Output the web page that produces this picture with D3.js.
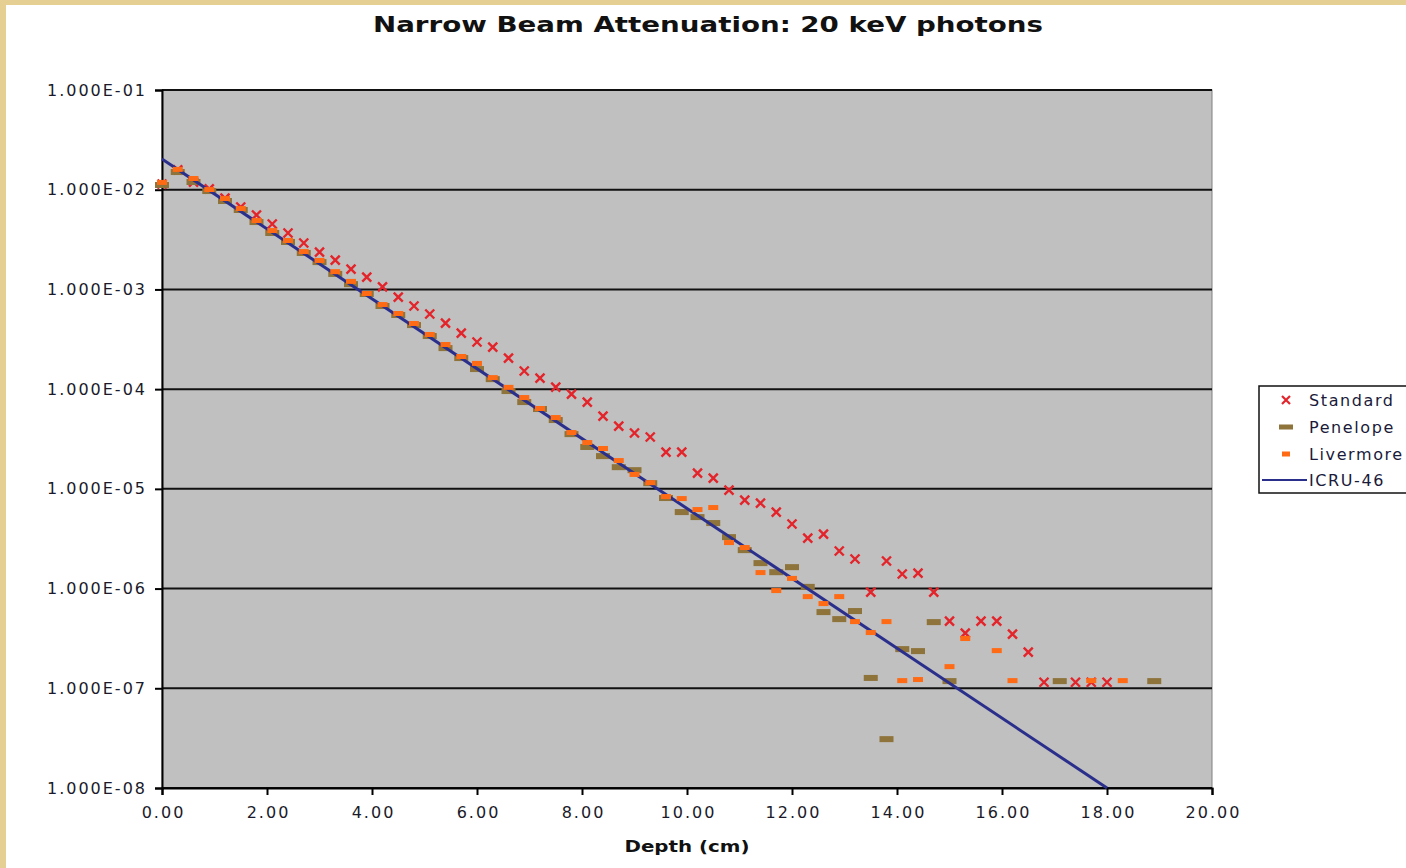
<!DOCTYPE html>
<html>
<head>
<meta charset="utf-8">
<script src="https://cdn.jsdelivr.net/npm/d3@7"></script>
<style>
  html, body { margin: 0; padding: 0; background: #e6cf92; }
  svg { display: block; }
</style>
</head>
<body>
<svg id="chart" width="1406" height="868"></svg>
<script>
// ---- Data ----
const title = "Narrow Beam Attenuation: 20 keV photons";
const xTitle = "Depth (cm)";
const xTicks = [0, 2, 4, 6, 8, 10, 12, 14, 16, 18, 20];
const yTicks = [1e-1, 1e-2, 1e-3, 1e-4, 1e-5, 1e-6, 1e-7, 1e-8];
const seriesNames = ["Standard", "Penelope", "Livermore", "ICRU-46"];

const standardDepth = [0.0,0.3,0.6,0.9,1.2,1.5,1.8,2.1,2.4,2.7,3.0,3.3,3.6,3.9,4.2,4.5,4.8,5.1,5.4,5.7,
  6.0,6.3,6.6,6.9,7.2,7.5,7.8,8.1,8.4,8.7,9.0,9.3,9.6,9.9,10.2,10.5,10.8,11.1,11.4,11.7,
  12.0,12.3,12.6,12.9,13.2,13.5,13.8,14.1,14.4,14.7,15.0,15.3,15.6,15.9,16.2,16.5,16.8,17.4,17.7,18.0];
const standardValue = [1.14e-2,1.58e-2,1.19e-2,1.02e-2,8.25e-3,6.71e-3,5.58e-3,4.53e-3,3.68e-3,2.92e-3,
  2.37e-3,1.97e-3,1.60e-3,1.33e-3,1.06e-3,8.39e-4,6.82e-4,5.67e-4,4.60e-4,3.65e-4,
  2.97e-4,2.64e-4,2.05e-4,1.52e-4,1.29e-4,1.05e-4,8.93e-5,7.42e-5,5.37e-5,4.26e-5,
  3.63e-5,3.31e-5,2.34e-5,2.34e-5,1.44e-5,1.28e-5,9.72e-6,7.72e-6,7.20e-6,5.85e-6,
  4.44e-6,3.21e-6,3.52e-6,2.38e-6,1.98e-6,9.22e-7,1.89e-6,1.40e-6,1.43e-6,9.22e-7,
  4.72e-7,3.58e-7,4.72e-7,4.72e-7,3.50e-7,2.31e-7,1.15e-7,1.15e-7,1.15e-7,1.15e-7];

const penelopeDepth = [0.0,0.3,0.6,0.9,1.2,1.5,1.8,2.1,2.4,2.7,3.0,3.3,3.6,3.9,4.2,4.5,4.8,5.1,5.4,5.7,
  6.0,6.3,6.6,6.9,7.2,7.5,7.8,8.1,8.4,8.7,9.0,9.3,9.6,9.9,10.2,10.5,10.8,11.1,11.4,11.7,
  12.0,12.3,12.6,12.9,13.2,13.5,13.8,14.1,14.4,14.7,15.0,17.1,18.9];
const penelopeValue = [1.115e-2,1.505e-2,1.195e-2,9.70e-3,7.70e-3,6.26e-3,4.74e-3,3.68e-3,2.99e-3,2.32e-3,
  1.88e-3,1.43e-3,1.13e-3,9.00e-4,6.82e-4,5.54e-4,4.39e-4,3.41e-4,2.58e-4,2.05e-4,
  1.59e-4,1.26e-4,9.57e-5,7.42e-5,6.32e-5,4.90e-5,3.54e-5,2.63e-5,2.13e-5,1.65e-5,
  1.54e-5,1.14e-5,8.09e-6,5.85e-6,5.21e-6,4.54e-6,3.28e-6,2.43e-6,1.80e-6,1.46e-6,
  1.64e-6,1.04e-6,5.81e-7,4.94e-7,5.95e-7,1.27e-7,3.09e-8,2.47e-7,2.36e-7,4.61e-7,
  1.18e-7,1.18e-7,1.18e-7];

const livermoreDepth = [0.0,0.3,0.6,0.9,1.2,1.5,1.8,2.1,2.4,2.7,3.0,3.3,3.6,3.9,4.2,4.5,4.8,5.1,5.4,5.7,
  6.0,6.3,6.6,6.9,7.2,7.5,7.8,8.1,8.4,8.7,9.0,9.3,9.6,9.9,10.2,10.5,10.8,11.1,11.4,11.7,
  12.0,12.3,12.6,12.9,13.2,13.5,13.8,14.1,14.4,15.0,15.3,15.9,16.2,17.7,18.3];
const livermoreValue = [1.17e-2,1.58e-2,1.28e-2,9.93e-3,8.06e-3,6.40e-3,4.85e-3,3.85e-3,3.06e-3,2.37e-3,
  1.93e-3,1.49e-3,1.19e-3,9.00e-4,6.97e-4,5.67e-4,4.50e-4,3.49e-4,2.77e-4,2.10e-4,
  1.79e-4,1.29e-4,1.03e-4,8.14e-5,6.32e-5,5.13e-5,3.63e-5,2.88e-5,2.51e-5,1.90e-5,
  1.38e-5,1.14e-5,8.28e-6,7.90e-6,6.13e-6,6.42e-6,2.86e-6,2.55e-6,1.43e-6,9.44e-7,
  1.25e-6,8.21e-7,6.99e-7,8.21e-7,4.61e-7,3.58e-7,4.61e-7,1.18e-7,1.21e-7,1.63e-7,
  3.12e-7,2.36e-7,1.18e-7,1.18e-7,1.18e-7];

const icruDepth = [0.0, 18.0];
const icruValue = [2.03e-2, 1.0e-8];

// ---- Colours ----
const cStandard = "#e3242b", cPenelope = "#8e733a", cLivermore = "#ff6a14", cIcru = "#2b2f8c";

// ---- Layout ----
const svg = d3.select("#chart");
const W = 1406, H = 868;
const plot = { left: 162, right: 1212, top: 90, bottom: 788 };
const FONT = "'DejaVu Sans', Verdana, sans-serif";

svg.append("rect").attr("x", 6).attr("y", 5).attr("width", W - 6).attr("height", H - 5).attr("fill", "#ffffff");

const x = d3.scaleLinear().domain([0, 20]).range([plot.left, plot.right]);
const y = d3.scaleLog().domain([1e-8, 1e-1]).range([plot.bottom, plot.top]);

// plot background
svg.append("rect")
  .attr("x", plot.left).attr("y", plot.top)
  .attr("width", plot.right - plot.left).attr("height", plot.bottom - plot.top)
  .attr("fill", "#c0c0c0").attr("stroke", "#808080").attr("stroke-width", 1);

// gridlines
svg.append("g").selectAll("line").data(yTicks).join("line")
  .attr("x1", plot.left).attr("x2", plot.right)
  .attr("y1", d => y(d)).attr("y2", d => y(d))
  .attr("stroke", "#111").attr("stroke-width", 2);

// Y axis
const yAxis = d3.axisLeft(y).tickValues(yTicks).tickSize(7).tickPadding(10)
  .tickFormat(d => "1.000E-0" + Math.round(-Math.log10(d)));
const gy = svg.append("g").attr("transform", `translate(${plot.left},0)`).call(yAxis);
gy.select(".domain").attr("stroke", "#000").attr("stroke-width", 2);
gy.selectAll(".tick line").attr("stroke", "#000").attr("stroke-width", 2);
gy.selectAll(".tick text").attr("font-family", FONT).attr("font-size", 16)
  .attr("letter-spacing", "2px").attr("fill", "#1a1a2a").attr("dx", "2");

// X axis
const xAxis = d3.axisBottom(x).tickValues(xTicks).tickSize(7).tickPadding(12)
  .tickFormat(d3.format(".2f"));
const gx = svg.append("g").attr("transform", `translate(0,${plot.bottom})`).call(xAxis);
gx.select(".domain").attr("stroke", "#000").attr("stroke-width", 2);
gx.selectAll(".tick line").attr("stroke", "#000").attr("stroke-width", 2);
gx.selectAll(".tick text").attr("font-family", FONT).attr("font-size", 16)
  .attr("letter-spacing", "2px").attr("fill", "#1a1a2a").attr("dx", "1");

// Title
svg.append("text").attr("x", 708).attr("y", 32).attr("text-anchor", "middle")
  .attr("font-family", FONT).attr("font-weight", "bold").attr("font-size", 21)
  .attr("textLength", 670).attr("lengthAdjust", "spacingAndGlyphs")
  .attr("fill", "#111").text(title);

// X axis title
svg.append("text").attr("x", 687).attr("y", 852).attr("text-anchor", "middle")
  .attr("font-family", FONT).attr("font-weight", "bold").attr("font-size", 16)
  .attr("textLength", 125).attr("lengthAdjust", "spacingAndGlyphs")
  .attr("fill", "#111").text(xTitle);

// ---- Marks ----
const standard = standardDepth.map((d, i) => ({ x: d, v: standardValue[i] }));
const penelope = penelopeDepth.map((d, i) => ({ x: d, v: penelopeValue[i] }));
const livermore = livermoreDepth.map((d, i) => ({ x: d, v: livermoreValue[i] }));
const icru = icruDepth.map((d, i) => ({ x: d, v: icruValue[i] }));

const crossPath = s => `M${-s},${-s}L${s},${s}M${-s},${s}L${s},${-s}`;

svg.append("g").selectAll("path").data(standard).join("path")
  .attr("transform", d => `translate(${x(d.x)},${y(d.v)})`)
  .attr("d", crossPath(4.5))
  .attr("stroke", cStandard).attr("stroke-width", 2.4).attr("fill", "none");

svg.append("g").selectAll("rect").data(penelope).join("rect")
  .attr("x", d => x(d.x) - 7).attr("y", d => y(d.v) - 3)
  .attr("width", 14).attr("height", 6).attr("fill", cPenelope);

svg.append("path").datum(icru)
  .attr("d", d3.line().x(d => x(d.x)).y(d => y(d.v)))
  .attr("stroke", cIcru).attr("stroke-width", 3).attr("fill", "none");

svg.append("g").selectAll("rect").data(livermore).join("rect")
  .attr("x", d => x(d.x) - 5).attr("y", d => y(d.v) - 3)
  .attr("width", 10).attr("height", 5).attr("fill", cLivermore);

// ---- Legend ----
const lg = svg.append("g");
lg.append("rect").attr("x", 1259).attr("y", 386).attr("width", 170).attr("height", 107)
  .attr("fill", "#ffffff").attr("stroke", "#111").attr("stroke-width", 1.5);
const ly = [400, 427, 454, 480];
const lx = 1286;
lg.append("path").attr("transform", `translate(${lx},${ly[0]})`).attr("d", crossPath(4))
  .attr("stroke", cStandard).attr("stroke-width", 2.2).attr("fill", "none");
lg.append("rect").attr("x", lx - 7).attr("y", ly[1] - 2.5).attr("width", 14).attr("height", 5).attr("fill", cPenelope);
lg.append("rect").attr("x", lx - 4).attr("y", ly[2] - 2.5).attr("width", 8).attr("height", 5).attr("fill", cLivermore);
lg.append("line").attr("x1", 1262).attr("x2", 1307).attr("y1", ly[3]).attr("y2", ly[3])
  .attr("stroke", cIcru).attr("stroke-width", 2);
lg.selectAll("text").data(seriesNames).join("text")
  .attr("x", 1309).attr("y", (d, i) => ly[i] + 6)
  .attr("font-family", FONT).attr("font-size", 16).attr("letter-spacing", "1.6px")
  .attr("fill", "#1a1a3a").text(d => d);
</script>
</body>
</html>
